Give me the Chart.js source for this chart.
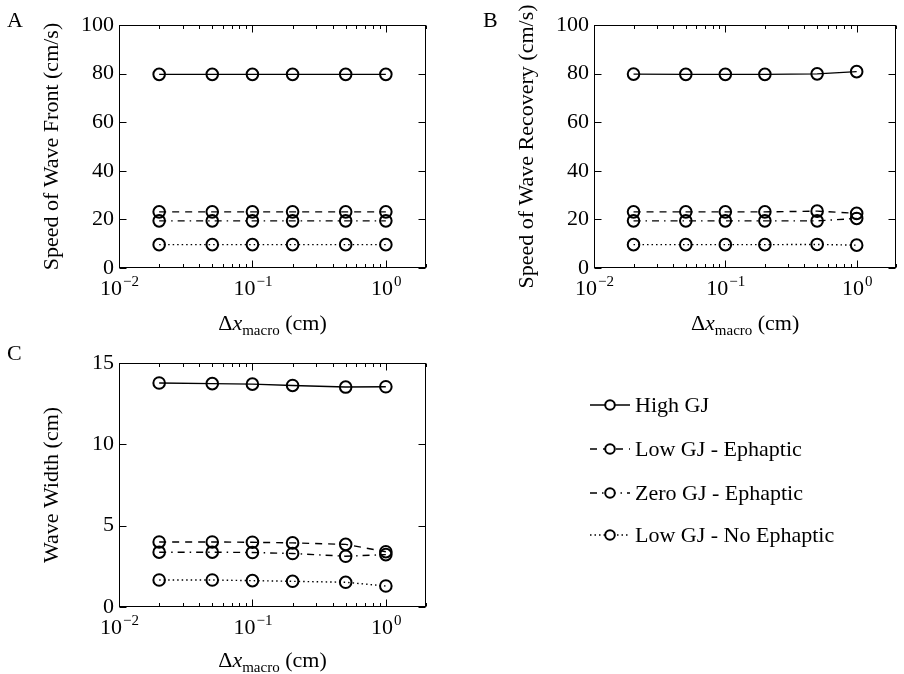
<!DOCTYPE html>
<html>
<head>
<meta charset="utf-8">
<script src="https://cdn.jsdelivr.net/npm/chart.js@4"></script>
<style>
  body { margin: 0; background: #fff; }
  #wrap { position: relative; width: 904px; height: 674px; overflow: hidden; }
  canvas { position: absolute; }
</style>
</head>
<body>
<div id="wrap">
  <canvas id="chartA" width="452" height="350" style="left:0;top:0"></canvas>
  <canvas id="chartB" width="452" height="350" style="left:452px;top:0"></canvas>
  <canvas id="chartC" width="904" height="337" style="left:0;top:337px"></canvas>
</div>
<script>
 // x values (cm) and the series names
 const dx = [0.02, 0.05, 0.1, 0.2, 0.5, 1.0];
 const names = ['High GJ', 'Low GJ - Ephaptic', 'Zero GJ - Ephaptic', 'Low GJ - No Ephaptic'];
 const xTickValues = [0.01, 0.1, 1];
 const xTickExp = ['\u22122', '\u22121', '0'];

 // A: speed of wave front
 const frontHigh   = [79.7, 79.7, 79.7, 79.7, 79.7, 79.7];
 const frontLowEph = [23.1, 23.1, 23.1, 23.1, 23.1, 23.1];
 const frontZero   = [19.4, 19.4, 19.4, 19.4, 19.4, 19.4];
 const frontNoEph  = [9.6, 9.6, 9.6, 9.6, 9.6, 9.6];

 // B: speed of wave recovery
 const recHigh   = [79.8, 79.7, 79.7, 79.7, 79.9, 80.8];
 const recLowEph = [23.1, 23.1, 23.1, 23.1, 23.4, 22.5];
 const recZero   = [19.4, 19.4, 19.4, 19.4, 19.4, 20.4];
 const recNoEph  = [9.6, 9.6, 9.6, 9.6, 9.7, 9.4];

 // C: wave width
 const widthHigh   = [13.77, 13.73, 13.70, 13.62, 13.52, 13.54];
 const widthLowEph = [4.00, 4.00, 3.98, 3.94, 3.85, 3.40];
 const widthZero   = [3.37, 3.37, 3.35, 3.29, 3.12, 3.22];
 const widthNoEph  = [1.66, 1.66, 1.62, 1.58, 1.52, 1.29];

 const FONT = 'Liberation Serif';
 const FS = 22;
 const dashes = [[], [7, 6], [7, 5, 1.5, 5], [1.5, 3]];

 function makeSets(lists){
     return lists.map((vals, i) => ({
         label: names[i],
         data: vals.map((v, j) => ({x: dx[j], y: v})),
         borderColor: '#000',
         borderWidth: 1.4,
         borderDash: dashes[i],
         tension: 0,
         fill: false,
         pointStyle: 'circle',
         pointRadius: 5.8,
         pointBorderWidth: 2,
         pointBorderColor: '#000',
         pointBackgroundColor: 'rgba(0,0,0,0)'
     }));
 }

 function seg(ctx, x1, y1, x2, y2){
     ctx.beginPath(); ctx.moveTo(x1, y1); ctx.lineTo(x2, y2); ctx.stroke();
 }
 function f(size, style){ return (style ? style + ' ' : '') + size + 'px "' + FONT + '"'; }

 // matplotlib like frame, inward ticks, x labels, x title, panel letter, legend
 const framePlugin = {
     id: 'frame',
     afterDraw(chart, args, opts){
         const ctx = chart.ctx;
         const a = chart.chartArea;
         const x = chart.scales.x, y = chart.scales.y;
         ctx.save();
         ctx.strokeStyle = '#000';
         ctx.lineWidth = 1;
         ctx.setLineDash([]);
         const L = Math.round(a.left) + 0.5, R = Math.round(a.right) - 0.5;
         const T = Math.round(a.top) + 0.5, B = Math.round(a.bottom) - 0.5;
         ctx.strokeRect(L, T, R - L, B - T);
         y.ticks.forEach(t => {
             const py = Math.round(y.getPixelForValue(t.value)) + 0.5;
             seg(ctx, L, py, L + 7, py);
             seg(ctx, R - 7, py, R, py);
         });
         for (let e = -2; e <= 0; e++){
             for (let m = 1; m <= 9; m++){
                 const v = m * Math.pow(10, e);
                 if (v > x.max + 1e-9) break;
                 const px = Math.round(x.getPixelForValue(v)) + 0.5;
                 const len = m === 1 ? 7 : 3.5;
                 seg(ctx, px, B, px, B - len);
                 seg(ctx, px, T, px, T + len);
             }
         }
         ctx.fillStyle = '#000';
         ctx.textBaseline = 'alphabetic';
         // x tick labels 10^n
         xTickValues.forEach((v, i) => {
             ctx.font = f(FS);
             const w1 = ctx.measureText('10').width;
             ctx.font = f(15);
             const w2 = ctx.measureText(xTickExp[i]).width;
             const x0 = x.getPixelForValue(v) - (w1 + w2) / 2;
             const yb = a.bottom + 27;
             ctx.font = f(FS);
             ctx.fillText('10', x0, yb);
             ctx.font = f(15);
             ctx.fillText(xTickExp[i], x0 + w1 + 1, yb - 9);
         });
         // x axis title: Δx_macro (cm)
         const parts = [
             {t: '\u0394', f: f(FS), dy: 0},
             {t: 'x', f: f(FS, 'italic'), dy: 0},
             {t: 'macro', f: f(15), dy: 5},
             {t: ' (cm)', f: f(FS), dy: 0}
         ];
         let w = 0;
         parts.forEach(p => { ctx.font = p.f; p.w = ctx.measureText(p.t).width; w += p.w; });
         let cx = (a.left + a.right) / 2 - w / 2;
         const base = a.bottom + opts.titleGap;
         parts.forEach(p => { ctx.font = p.f; ctx.fillText(p.t, cx, base + p.dy); cx += p.w; });
         // panel letter
         ctx.font = f(FS);
         ctx.fillText(opts.label, opts.labelX, opts.labelY);
         // legend
         if (opts.legend){
             const lg = opts.legend;
             chart.data.datasets.forEach((ds, i) => {
                 const ly = lg.y[i];
                 ctx.lineWidth = 1.4;
                 ctx.setLineDash(ds.borderDash);
                 seg(ctx, lg.x1, ly, lg.x2, ly);
                 ctx.setLineDash([]);
                 ctx.lineWidth = 2;
                 ctx.fillStyle = '#fff';
                 ctx.beginPath(); ctx.arc((lg.x1 + lg.x2) / 2, ly, 4.8, 0, Math.PI * 2); ctx.fill(); ctx.stroke();
                 ctx.fillStyle = '#000';
                 ctx.textBaseline = 'middle';
                 ctx.font = f(FS);
                 ctx.fillText(ds.label, lg.tx, ly + 1);
             });
         }
         ctx.restore();
     }
 };

 function makePanel(id, lists, yTitle, yMax, yStep, pad, xHeight, extra){
     const config = {
         type: 'line',
         data: {datasets: makeSets(lists)},
         options: {
             responsive: false,
             animation: false,
             devicePixelRatio: 1,
             layout: {padding: pad},
             plugins: {
                 legend: {display: false},
                 tooltip: {enabled: false},
                 frame: extra
             },
             scales: {
                 x: {
                     type: 'logarithmic',
                     min: 0.01,
                     max: 2,
                     grid: {display: false, drawTicks: false},
                     border: {display: false},
                     afterBuildTicks: s => { s.ticks = xTickValues.map(v => ({value: v})); },
                     afterFit: s => { s.height = xHeight; },
                     ticks: {display: false}
                 },
                 y: {
                     min: 0,
                     max: yMax,
                     grid: {display: false, drawTicks: false},
                     border: {display: false},
                     afterFit: s => { s.width = 119; },
                     ticks: {
                         stepSize: yStep,
                         padding: 5,
                         color: '#000',
                         font: {family: FONT, size: FS}
                     },
                     title: {
                         display: true,
                         text: yTitle,
                         color: '#000',
                         font: {family: FONT, size: FS},
                         padding: {top: 39, bottom: 0}
                     }
                 }
             }
         },
         plugins: [framePlugin]
     };
     return new Chart(document.getElementById(id), config);
 }

 makePanel('chartA', [frontHigh, frontLowEph, frontZero, frontNoEph], 'Speed of Wave Front (cm/s)', 100, 20,
     {left: 0, right: 26, top: 25, bottom: 0}, 82,
     {label: 'A', labelX: 7, labelY: 27, titleGap: 62});
 makePanel('chartB', [recHigh, recLowEph, recZero, recNoEph], 'Speed of Wave Recovery (cm/s)', 100, 20,
     {left: 23, right: 2, top: 25, bottom: 0}, 82,
     {label: 'B', labelX: 31, labelY: 27, titleGap: 62});
 makePanel('chartC', [widthHigh, widthLowEph, widthZero, widthNoEph], 'Wave Width (cm)', 15, 5,
     {left: 0, right: 478, top: 26, bottom: 0}, 67,
     {label: 'C', labelX: 7, labelY: 23, titleGap: 60,
      legend: {x1: 590, x2: 630, tx: 635, y: [68, 112, 156, 198]}});
</script>
</body>
</html>
